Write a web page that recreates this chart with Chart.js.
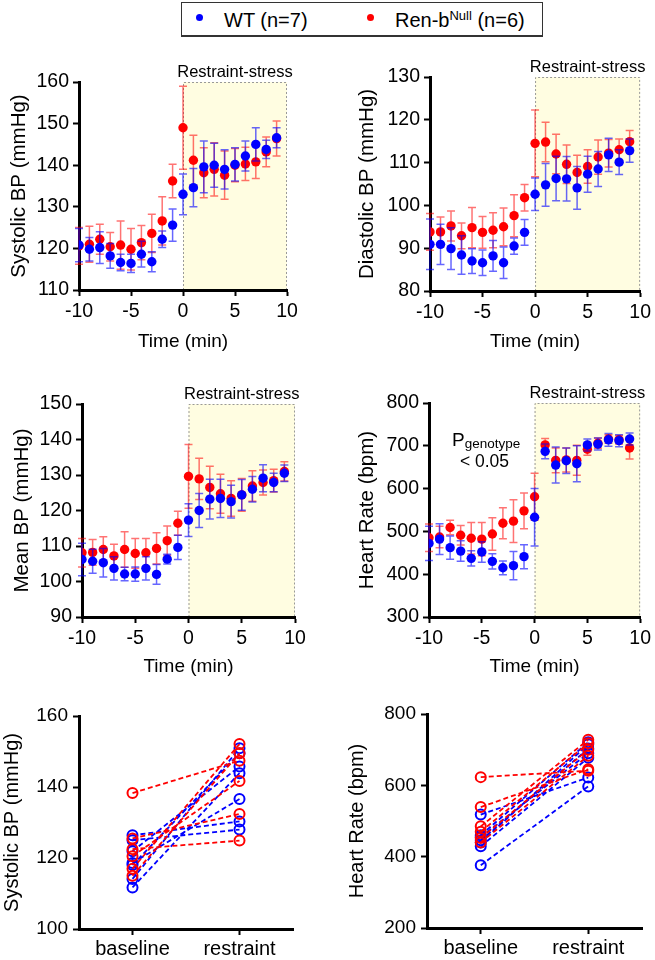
<!DOCTYPE html>
<html><head><meta charset="utf-8">
<script src="https://cdn.jsdelivr.net/npm/chart.js@4.4.1/dist/chart.umd.min.js"></script>
<style>
html,body{margin:0;padding:0;background:#fff;}
body{width:655px;height:960px;position:relative;overflow:hidden;font-family:"Liberation Sans",Arial,sans-serif;}
canvas{position:absolute;}
#legend{position:absolute;left:181px;top:2px;width:360px;height:32px;border:1px solid #333;border-bottom:2px solid #333;}
.dot{position:absolute;width:7px;height:7px;border-radius:50%;}
.lt{position:absolute;font-size:20px;line-height:20px;white-space:nowrap;color:#000;}
.lt sup{font-size:13px;line-height:0;vertical-align:7px;}
</style></head>
<body>
<div id="legend">
  <span class="dot" style="left:14px;top:11px;background:#0000ff"></span>
  <span class="lt" style="left:42px;top:7px">WT (n=7)</span>
  <span class="dot" style="left:185px;top:11px;background:#ff0000"></span>
  <span class="lt" style="left:213px;top:7px">Ren-b<sup>Null</sup> (n=6)</span>
</div>
<canvas id="c1"></canvas><canvas id="c2"></canvas>
<canvas id="c3"></canvas><canvas id="c4"></canvas>
<canvas id="c5"></canvas><canvas id="c6"></canvas>
<script>
// ---------------- DATA ----------------
const timeMin = [-10,-9,-8,-7,-6,-5,-4,-3,-2,-1,0,1,2,3,4,5,6,7,8,9];

const wtSbp    = [120.8,119.8,120.2,118.2,116.6,116.4,118.6,116.8,122.2,125.6,133.0,134.6,139.6,140.0,139.0,140.2,142.2,145.0,143.8,146.6];
const wtSbpSem = [4.0,2.8,3.8,3.0,2.0,2.2,3.1,2.4,2.0,3.9,4.9,4.6,6.2,5.3,4.7,4.0,3.6,4.0,2.2,2.4];
const koSbp    = [120.6,121.0,122.2,120.4,120.8,119.8,121.4,123.6,126.6,136.2,149.0,141.2,138.2,139.0,137.6,140.0,140.3,140.8,143.2,146.4];
const koSbpSem = [4.4,4.3,3.6,3.4,5.8,5.0,4.1,4.6,5.8,4.0,10.0,6.0,6.0,6.4,5.8,4.0,4.0,4.0,3.6,4.2];

const wtDbp    = [90.9,90.9,89.9,88.4,87.0,86.6,88.2,86.6,90.5,93.7,102.6,104.8,106.3,106.2,104.1,107.3,108.5,111.8,110.1,112.8];
const wtDbpSem = [5.9,4.7,4.9,4.5,2.9,3.0,3.6,3.7,1.9,3.0,3.8,5.0,5.2,5.2,5.0,4.2,4.1,3.9,2.9,2.7];
const koDbp    = [93.8,93.8,95.2,92.9,94.8,93.7,94.2,95.0,97.6,101.8,114.5,114.8,112.0,109.6,107.7,109.1,111.3,112.2,113.0,114.9];
const koDbpSem = [4.3,3.5,3.5,3.0,4.7,3.7,4.1,4.4,4.9,3.1,7.8,4.6,4.6,4.5,4.0,3.9,4.0,3.2,2.5,2.6];

const wtMap    = [106.2,105.7,105.3,103.7,102.1,102.1,103.7,102.0,106.3,109.6,117.3,120.0,123.2,123.4,122.5,124.4,126.0,129.1,127.9,130.5];
const wtMapSem = [4.6,3.4,4.0,3.3,1.9,2.0,3.3,2.8,1.4,3.4,4.6,4.8,5.6,5.4,4.6,4.3,3.6,3.8,2.6,2.3];
const koMap    = [108.1,108.2,109.0,107.2,109.0,107.9,108.1,109.3,111.5,116.4,129.6,128.9,126.5,124.7,123.4,124.4,126.9,127.9,128.4,131.0];
const koMapSem = [4.0,3.6,3.6,3.3,5.0,4.2,4.0,4.4,4.1,3.4,9.0,5.8,6.0,5.5,5.0,4.6,4.3,3.5,3.2,2.7];

const wtHr    = [472,482,462,454,437,452,430,415,420,441,533,687,655,665,658,702,704,714,712,716];
const wtHrSem = [40,36,27,24,18,24,18,16,33,28,67,17,42,30,42,14,14,15,14,14];
const koHr    = [485,487,509,491,484,482,494,519,524,548,581,702,666,667,666,692,706,716,714,695];
const koHrSem = [32,25,17,23,37,39,38,36,50,42,55,15,29,28,35,14,12,10,10,26];

const pairCategories = ['baseline','restraint'];
const wtSbpBase  = [126.4,125.0,121.9,118.6,118.0,114.1,111.7];
const wtSbpRestr = [130.3,128.0,145.8,136.6,149.5,150.9,143.9];
const koSbpBase  = [138.3,125.5,122.5,120.5,117.0,115.0];
const koSbpRestr = [147.4,132.4,124.9,141.7,152.1,149.5];

const wtHrBase  = [518,460,446,440,429,455,376];
const wtHrRestr = [622,721,703,715,677,690,597];
const koHrBase  = [623,539,485,470,452,440];
const koHrRestr = [641,645,728,718,700,683];

// ---------------- STYLE ----------------
const FONT = '"Liberation Sans", Arial, Helvetica, sans-serif';
Chart.defaults.font.family = FONT;
Chart.defaults.color = '#000';
const BLUE = '#0000ff', RED = '#ff0000';
const ERR_BLUE = 'rgba(0,0,255,0.6)', ERR_RED = 'rgba(255,0,0,0.55)';

const errorBarPlugin = {
  id: 'errorBars',
  beforeDatasetDraw(chart, args) {
    const ds = chart.data.datasets[args.index];
    if (!ds.errors) return;
    const yS = chart.scales.y, ctx = chart.ctx;
    ctx.save();
    ctx.strokeStyle = ds.errorColor; ctx.lineWidth = 1.5;
    ctx.beginPath();
    args.meta.data.forEach((pt, i) => {
      const v = ds.data[i].y, e = ds.errors[i];
      const t = yS.getPixelForValue(v + e), b = yS.getPixelForValue(v - e), x = pt.x;
      ctx.moveTo(x, t); ctx.lineTo(x, b);
      ctx.moveTo(x - 4, t); ctx.lineTo(x + 4, t);
      ctx.moveTo(x - 4, b); ctx.lineTo(x + 4, b);
    });
    ctx.stroke();
    ctx.restore();
  }
};

const restraintPlugin = {
  id: 'restraint',
  beforeDraw(chart, args, opts) {
    if (!opts || opts.label === undefined) return;
    const {ctx, chartArea: ca, scales} = chart;
    const x0 = scales.x.getPixelForValue(opts.from), x1 = scales.x.getPixelForValue(opts.to);
    ctx.save();
    ctx.fillStyle = '#FFFDE1';
    ctx.fillRect(x0, ca.top, x1 - x0, ca.bottom - ca.top);
    ctx.strokeStyle = '#999'; ctx.lineWidth = 1; ctx.setLineDash([2, 2]);
    ctx.beginPath();
    ctx.moveTo(x0 + 0.5, ca.bottom); ctx.lineTo(x0 + 0.5, ca.top + 0.5);
    ctx.lineTo(x1 - 0.5, ca.top + 0.5); ctx.lineTo(x1 - 0.5, ca.bottom);
    ctx.stroke();
    ctx.setLineDash([]);
    ctx.fillStyle = '#000';
    ctx.font = '16.5px ' + FONT;
    ctx.textAlign = 'center'; ctx.textBaseline = 'alphabetic';
    ctx.fillText(opts.label, (x0 + x1) / 2, ca.top - 5);
    ctx.restore();
  }
};

const annotPlugin = {
  id: 'annot',
  afterDraw(chart, args, opts) {
    if (!opts || !opts.show) return;
    const {ctx, chartArea: ca} = chart;
    ctx.save();
    ctx.fillStyle = '#000'; ctx.textBaseline = 'alphabetic';
    ctx.font = '19px ' + FONT; ctx.textAlign = 'left';
    const px = ca.left + 23, py = ca.top + 43;
    ctx.fillText('P', px, py);
    const w = ctx.measureText('P').width;
    ctx.font = '13.5px ' + FONT;
    ctx.fillText('genotype', px + w, py + 2);
    ctx.font = '17.5px ' + FONT; ctx.textAlign = 'center';
    ctx.fillText('< 0.05', ca.left + 55.5, ca.top + 64);
    ctx.restore();
  }
};

function place(cv, r) {
  cv.width = r.w; cv.height = r.h;
  cv.style.left = r.x + 'px'; cv.style.top = r.y + 'px';
  cv.style.width = r.w + 'px'; cv.style.height = r.h + 'px';
}
function axisBase(tickSize, pad) {
  return {
    ticks: {color: '#000', font: {size: tickSize}, padding: pad},
    grid: {drawOnChartArea: false, drawTicks: true, tickLength: 6, tickWidth: 2, tickColor: '#000'},
    border: {display: true, color: '#000', width: 3}
  };
}
function layoutFor(g) {
  return {autoPadding: false, padding: {left: 0, top: g.area.t - g.rect.y, right: g.rect.x + g.rect.w - g.area.r, bottom: 0}};
}

function makeTimeChart(id, g, s) {
  const cv = document.getElementById(id); place(cv, g.rect);
  const xAx = axisBase(19.5, 4), yAx = axisBase(19.5, 4);
  new Chart(cv, {
    type: 'scatter',
    data: {datasets: [
      {label: 'WT', data: timeMin.map((t, i) => ({x: t, y: s.wt[i]})), errors: s.wtErr, errorColor: ERR_BLUE,
       pointRadius: 4.7, pointBorderWidth: 0, pointBackgroundColor: BLUE, showLine: false},
      {label: 'Ren-b Null', data: timeMin.map((t, i) => ({x: t, y: s.ko[i]})), errors: s.koErr, errorColor: ERR_RED,
       pointRadius: 4.7, pointBorderWidth: 0, pointBackgroundColor: RED, showLine: false}
    ]},
    options: {
      responsive: false, animation: false, events: [],
      layout: layoutFor(g),
      plugins: {legend: {display: false}, tooltip: {enabled: false},
        restraint: {from: 0, to: 10, label: 'Restraint-stress'}, annot: {show: !!s.annot}},
      scales: {
        x: Object.assign(xAx, {type: 'linear', min: -10, max: 10,
          ticks: Object.assign(xAx.ticks, {stepSize: 5}),
          title: {display: true, text: 'Time (min)', color: '#000', font: {size: 19},
                  padding: {top: 0, bottom: g.rect.y + g.rect.h - g.xTitleY - 11.4}},
          afterFit: sc => { sc.height = g.rect.y + g.rect.h - g.area.b; }}),
        y: Object.assign(yAx, {type: 'linear', min: s.yMin, max: s.yMax,
          ticks: Object.assign(yAx.ticks, {stepSize: s.yStep}),
          title: {display: true, text: s.yTitle, color: '#000', font: {size: 20.5},
                  padding: {top: g.yTitleX - g.rect.x - 12.3, bottom: 0}},
          afterFit: sc => { sc.width = g.area.l - g.rect.x; }})
      }
    },
    plugins: [restraintPlugin, errorBarPlugin, annotPlugin]
  });
}

function pairSets(base, restr, color) {
  return base.map((b, i) => ({
    data: [b, restr[i]], borderColor: color, borderWidth: 1.8, borderDash: [5, 3],
    pointRadius: 5, pointBorderWidth: 2, pointBorderColor: color,
    pointBackgroundColor: 'rgba(255,255,255,0)', fill: false, tension: 0
  }));
}
function makePairChart(id, g, s) {
  const cv = document.getElementById(id); place(cv, g.rect);
  const xAx = axisBase(20, 2), yAx = axisBase(19, 5);
  new Chart(cv, {
    type: 'line',
    data: {labels: pairCategories, datasets: [...pairSets(s.koBase, s.koRestr, RED), ...pairSets(s.wtBase, s.wtRestr, BLUE)]},
    options: {
      responsive: false, animation: false, events: [],
      layout: layoutFor(g),
      plugins: {legend: {display: false}, tooltip: {enabled: false}},
      scales: {
        x: Object.assign(xAx, {type: 'category', offset: true,
          grid: Object.assign(xAx.grid, {offset: false}),
          afterFit: sc => { sc.height = g.rect.y + g.rect.h - g.area.b; }}),
        y: Object.assign(yAx, {type: 'linear', min: s.yMin, max: s.yMax,
          ticks: Object.assign(yAx.ticks, {stepSize: s.yStep}),
          title: {display: true, text: s.yTitle, color: '#000', font: {size: 20},
                  padding: {top: g.yTitleX - g.rect.x - 12, bottom: 0}},
          afterFit: sc => { sc.width = g.area.l - g.rect.x; }})
      }
    }
  });
}

makeTimeChart('c1', {rect: {x: 0, y: 56, w: 327, h: 300}, area: {l: 79, t: 82, r: 287, b: 290}, yTitleX: 19, xTitleY: 342},
  {wt: wtSbp, wtErr: wtSbpSem, ko: koSbp, koErr: koSbpSem, yMin: 110, yMax: 160, yStep: 10, yTitle: 'Systolic BP (mmHg)'});
makeTimeChart('c2', {rect: {x: 327, y: 52, w: 328, h: 304}, area: {l: 430, t: 77, r: 643, b: 291}, yTitleX: 367, xTitleY: 342},
  {wt: wtDbp, wtErr: wtDbpSem, ko: koDbp, koErr: koDbpSem, yMin: 80, yMax: 130, yStep: 10, yTitle: 'Diastolic BP (mmHg)'});
makeTimeChart('c3', {rect: {x: 0, y: 376, w: 327, h: 304}, area: {l: 82, t: 404, r: 295, b: 617}, yTitleX: 22, xTitleY: 667},
  {wt: wtMap, wtErr: wtMapSem, ko: koMap, koErr: koMapSem, yMin: 90, yMax: 150, yStep: 10, yTitle: 'Mean BP (mmHg)'});
makeTimeChart('c4', {rect: {x: 327, y: 376, w: 328, h: 304}, area: {l: 429, t: 403, r: 642, b: 617}, yTitleX: 367, xTitleY: 667},
  {wt: wtHr, wtErr: wtHrSem, ko: koHr, koErr: koHrSem, yMin: 300, yMax: 800, yStep: 100, yTitle: 'Heart Rate (bpm)', annot: true});
makePairChart('c5', {rect: {x: 0, y: 690, w: 327, h: 270}, area: {l: 79, t: 716, r: 293, b: 929}, yTitleX: 12},
  {wtBase: wtSbpBase, wtRestr: wtSbpRestr, koBase: koSbpBase, koRestr: koSbpRestr, yMin: 100, yMax: 160, yStep: 20, yTitle: 'Systolic BP (mmHg)'});
makePairChart('c6', {rect: {x: 327, y: 690, w: 328, h: 270}, area: {l: 427, t: 714, r: 642, b: 928}, yTitleX: 357},
  {wtBase: wtHrBase, wtRestr: wtHrRestr, koBase: koHrBase, koRestr: koHrRestr, yMin: 200, yMax: 800, yStep: 200, yTitle: 'Heart Rate (bpm)'});
</script>
</body></html>
